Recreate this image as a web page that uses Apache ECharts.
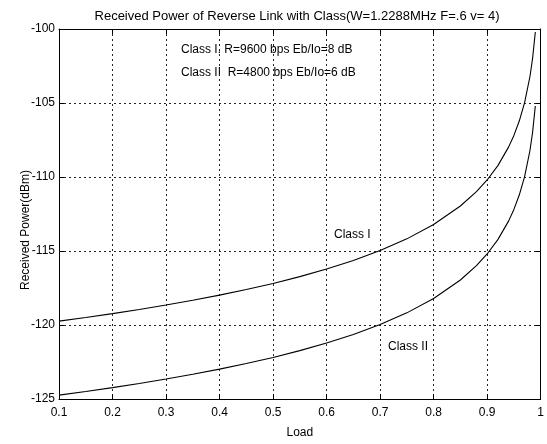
<!DOCTYPE html>
<html>
<head>
<meta charset="utf-8">
<script src="https://cdn.jsdelivr.net/npm/echarts@6/dist/echarts.min.js"></script>
<style>
html,body{margin:0;padding:0;background:#fff;}
#c{width:547px;height:444px;}
</style>
</head>
<body>
<div id="c"></div>
<script>
var loads =      [0.1, 0.15, 0.2, 0.25, 0.3, 0.35, 0.4, 0.45, 0.5, 0.55, 0.6, 0.65, 0.7, 0.75, 0.8, 0.85, 0.88, 0.9, 0.92, 0.94, 0.95, 0.96, 0.97, 0.98, 0.985, 0.99];
var classI =     [-119.74, -119.49, -119.23, -118.95, -118.65, -118.33, -117.98, -117.60, -117.19, -116.73, -116.22, -115.64, -114.97, -114.18, -113.21, -111.96, -110.99, -110.20, -109.23, -107.98, -107.19, -106.22, -104.97, -103.21, -101.96, -100.20];
var classII =    [-124.74, -124.49, -124.23, -123.95, -123.65, -123.33, -122.98, -122.60, -122.19, -121.73, -121.22, -120.64, -119.97, -119.18, -118.21, -116.96, -115.99, -115.20, -114.23, -112.98, -112.19, -111.22, -109.97, -108.21, -106.96, -105.20];
var xTickLabels = ['0.1','0.2','0.3','0.4','0.5','0.6','0.7','0.8','0.9','1'];
var titleText = 'Received Power of Reverse Link with Class(W=1.2288MHz F=.6 v= 4)';
var yAxisTitle = 'Received Power(dBm)';
var xAxisTitle = 'Load';
var noteLines = ['Class I. R=9600 bps Eb/Io=8 dB', 'Class II  R=4800 bps Eb/Io=6 dB'];
var seriesNames = ['Class I', 'Class II'];

function pairs(xs, ys){ return xs.map(function(x,i){ return [x, ys[i]]; }); }

var font = 'Liberation Sans, Arial, sans-serif';
var chart = echarts.init(document.getElementById('c'), null, {renderer:'canvas'});
var gridLine = {show:true, lineStyle:{color:'#222', type:[2,3], width:1}};
var axisBase = {
  axisLine:{show:true, onZero:false, lineStyle:{color:'#000', width:1}},
  axisTick:{show:true, inside:true, length:5, lineStyle:{color:'#000'}},
};
chart.setOption({
  animation:false,
  backgroundColor:'#fff',
  title:{text:titleText, left:292, top:5, textAlign:'center',
    textStyle:{fontFamily:font, fontSize:13, fontWeight:'normal', color:'#000'}},
  grid:{left:59, right:6, top:29, bottom:35, containLabel:false},
  xAxis:[
    Object.assign({type:'value', min:0.1, max:1, interval:0.1, name:xAxisTitle, nameLocation:'middle', nameGap:28,
      nameMoveOverlap:false,
      nameTextStyle:{fontFamily:font, fontSize:12, color:'#000'},
      axisLabel:{fontFamily:font, fontSize:12, color:'#000', margin:8,
        formatter:function(v){ var i=Math.round((v-0.1)/0.1); return xTickLabels[i]; }},
      splitLine:gridLine}, axisBase),
    Object.assign({type:'value', position:'top', min:0.1, max:1, interval:0.1,
      axisLabel:{show:false}, splitLine:{show:false}}, axisBase)
  ],
  yAxis:[
    Object.assign({type:'value', min:-125, max:-100, interval:5,
      axisLabel:{fontFamily:font, fontSize:12, color:'#000', margin:4},
      splitLine:gridLine}, axisBase),
    Object.assign({type:'value', position:'right', min:-125, max:-100, interval:5,
      axisLabel:{show:false}, splitLine:{show:false}}, axisBase)
  ],
  series:[
    {name:seriesNames[0], type:'line', data:pairs(loads, classI), symbol:'none', smooth:false,
      lineStyle:{color:'#000', width:1.1}},
    {name:seriesNames[1], type:'line', data:pairs(loads, classII), symbol:'none', smooth:false,
      lineStyle:{color:'#000', width:1.1}}
  ],
  graphic:[
    {type:'text', x:26, y:230, rotation:Math.PI/2,
      style:{text:yAxisTitle, font:'12px '+font, fill:'#000', align:'center', verticalAlign:'middle'}},
    {type:'text', left:181, top:44, style:{text:noteLines[0], font:'12px '+font, fill:'#000'}},
    {type:'text', left:181, top:67, style:{text:noteLines[1], font:'12px '+font, fill:'#000'}},
    {type:'text', left:334, top:229, style:{text:seriesNames[0], font:'12px '+font, fill:'#000'}},
    {type:'text', left:388, top:341, style:{text:seriesNames[1], font:'12px '+font, fill:'#000'}}
  ]
});
</script>
</body>
</html>
